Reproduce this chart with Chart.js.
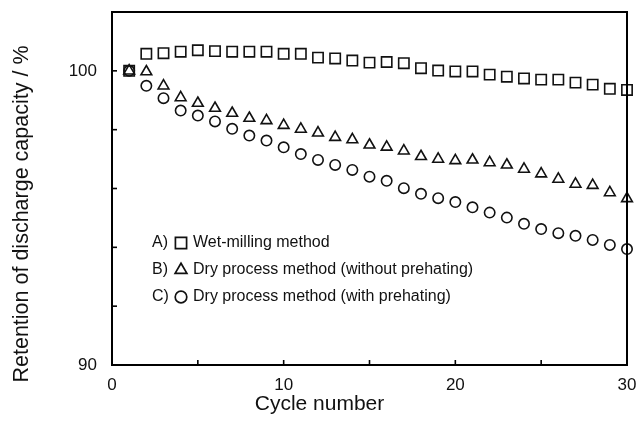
<!DOCTYPE html>
<html>
<head>
<meta charset="utf-8">
<script src="https://cdn.jsdelivr.net/npm/chart.js@4"></script>
<style>
  html, body { margin: 0; padding: 0; background: #fff; }
  #wrap { width: 639px; height: 425px; position: relative; }
</style>
</head>
<body>
<div id="wrap"><canvas id="retentionChart"></canvas></div>
<script>
// values
const cycles = [1, 2, 3, 4, 5, 6, 7, 8, 9, 10, 11, 12, 13, 14, 15, 16, 17, 18, 19, 20, 21, 22, 23, 24, 25, 26, 27, 28, 29, 30];
const wetMilling = [100.0, 100.58, 100.6, 100.65, 100.7, 100.67, 100.65, 100.65, 100.65, 100.58, 100.58, 100.45, 100.42, 100.35, 100.28, 100.3, 100.26, 100.09, 100.01, 99.98, 99.98, 99.87, 99.8, 99.74, 99.7, 99.7, 99.6, 99.53, 99.39, 99.35];
const dryNoPreheat = [100.0, 99.97, 99.49, 99.09, 98.9, 98.73, 98.56, 98.39, 98.31, 98.15, 98.02, 97.89, 97.74, 97.66, 97.48, 97.41, 97.28, 97.09, 97.0, 96.95, 96.97, 96.88, 96.8, 96.66, 96.5, 96.32, 96.15, 96.11, 95.86, 95.66];
const dryPreheat = [100.0, 99.49, 99.07, 98.65, 98.48, 98.28, 98.03, 97.8, 97.63, 97.4, 97.17, 96.97, 96.8, 96.63, 96.4, 96.26, 96.01, 95.82, 95.67, 95.54, 95.36, 95.18, 95.01, 94.8, 94.62, 94.48, 94.39, 94.25, 94.08, 93.94];
const seriesLabels = ["Wet-milling method", "Dry process method (without prehating)", "Dry process method (with prehating)"];
const seriesPrefix = ["A)", "B)", "C)"];
const xTickLabels = [0, 10, 20, 30];
const yTickLabels = [90, 100];
const xTitle = "Cycle number";
const yTitle = "Retention of discharge capacity / %";

Chart.defaults.color = "#111";
Chart.defaults.font.family = "'Liberation Sans', Arial, sans-serif";

function toPoints(values) {
  return values.map((v, i) => ({ x: cycles[i], y: v }));
}

function createDataset(label, data, options) {
  return {
    label: label,
    data: toPoints(data),
    showLine: false,
    borderColor: "#111",
    backgroundColor: "rgba(0,0,0,0)",
    pointBorderWidth: 1.6,
    clip: false,
    ...options,
  };
}

const datasets = [
  createDataset(seriesLabels[0], wetMilling, { pointStyle: "rect", pointRadius: 7.3 }),
  createDataset(seriesLabels[1], dryNoPreheat, { pointStyle: "triangle", pointRadius: 6.2 }),
  createDataset(seriesLabels[2], dryPreheat, { pointStyle: "circle", pointRadius: 5.2 }),
];

// frame, inward tick marks, axis titles and the in-plot legend
const framePlugin = {
  id: "frame",
  afterDatasetsDraw(chart) {
    const { ctx, chartArea: a, scales } = chart;
    ctx.save();
    ctx.strokeStyle = "#000";
    ctx.lineWidth = 1.6;
    // tick marks
    scales.x.ticks.forEach((t) => {
      const px = scales.x.getPixelForValue(t.value);
      if (t.value <= scales.x.min || t.value >= scales.x.max) return;
      ctx.beginPath();
      ctx.moveTo(px, a.bottom);
      ctx.lineTo(px, a.bottom - 5);
      ctx.stroke();
    });
    scales.y.ticks.forEach((t) => {
      const py = scales.y.getPixelForValue(t.value);
      if (t.value <= scales.y.min || t.value >= scales.y.max) return;
      ctx.beginPath();
      ctx.moveTo(a.left, py);
      ctx.lineTo(a.left + 5, py);
      ctx.stroke();
    });
    ctx.lineWidth = 2;
    ctx.strokeRect(a.left, a.top, a.right - a.left, a.bottom - a.top);

    // axis titles (the original centres them on the page, not the plot)
    ctx.fillStyle = "#111";
    ctx.font = "21px 'Liberation Sans', Arial, sans-serif";
    ctx.textAlign = "center";
    ctx.textBaseline = "middle";
    ctx.fillText(xTitle, chart.width / 2, 404);
    ctx.save();
    ctx.translate(22, 214);
    ctx.rotate(-Math.PI / 2);
    ctx.font = "21.5px 'Liberation Sans', Arial, sans-serif";
    ctx.fillText(yTitle, 0, 0);
    ctx.restore();

    // legend
    ctx.font = "16px 'Liberation Sans', Arial, sans-serif";
    ctx.textBaseline = "middle";
    const rowY = [243, 270, 297];
    chart.data.datasets.forEach((ds, i) => {
      const y = rowY[i];
      ctx.textAlign = "left";
      ctx.fillStyle = "#111";
      ctx.fillText(seriesPrefix[i], a.left + 40, y);
      ctx.fillText(ds.label, a.left + 81, y);
      ctx.strokeStyle = "#111";
      ctx.fillStyle = "rgba(0,0,0,0)";
      ctx.lineWidth = 1.7;
      Chart.helpers.drawPoint(ctx, {
        pointStyle: ds.pointStyle,
        radius: ds.pointRadius + 0.6,
        borderWidth: 1.7,
        rotation: 0,
      }, a.left + 69, y);
    });
    ctx.restore();
  },
};

new Chart(document.getElementById("retentionChart"), {
  type: "scatter",
  data: { datasets: datasets },
  options: {
    responsive: true,
    maintainAspectRatio: false,
    animation: false,
    layout: { padding: { top: 12, right: 12, left: 0, bottom: 0 } },
    plugins: {
      legend: { display: false },
      tooltip: { enabled: false },
    },
    scales: {
      x: {
        type: "linear",
        min: 0,
        max: 30,
        afterFit: (scale) => {
          scale.height = 60;
          scale.paddingLeft = 0;
          scale.paddingRight = 0;
        },
        grid: { display: false, drawTicks: false },
        border: { display: false },
        ticks: {
          stepSize: 5,
          padding: 10,
          maxRotation: 0,
          font: { size: 17 },
          color: "#111",
          callback: (v) => (xTickLabels.includes(v) ? v : ""),
        },
      },
      y: {
        min: 90,
        max: 102,
        afterFit: (scale) => {
          scale.width = 112;
          scale.paddingTop = 0;
          scale.paddingBottom = 0;
        },
        grid: { display: false, drawTicks: false },
        border: { display: false },
        ticks: {
          stepSize: 2,
          padding: 15,
          font: { size: 17 },
          color: "#111",
          callback: (v) => (yTickLabels.includes(v) ? v : ""),
        },
      },
    },
  },
  plugins: [framePlugin],
});
</script>
</body>
</html>
